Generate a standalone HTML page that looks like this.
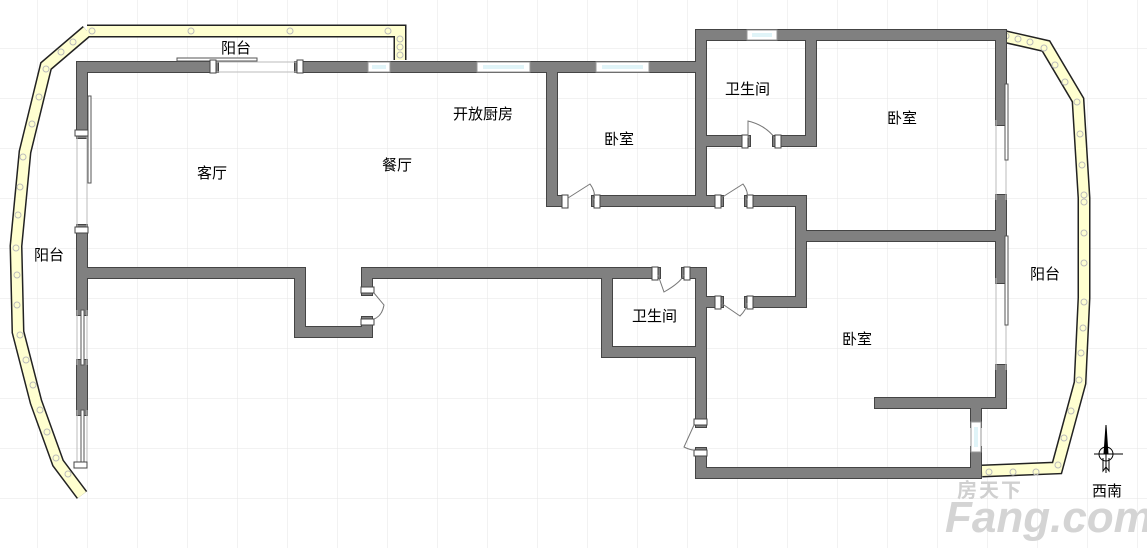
<!DOCTYPE html>
<html><head><meta charset="utf-8"><style>
html,body{margin:0;padding:0;background:#fff;}
svg{display:block}
text{font-family:"Liberation Sans","Noto Sans CJK SC",sans-serif;font-size:15px;fill:#000}
</style></head><body>
<svg width="1147" height="548" viewBox="0 0 1147 548" xmlns="http://www.w3.org/2000/svg">
<defs>
<pattern id="g" x="37" y="48" width="50" height="50" patternUnits="userSpaceOnUse">
<path d="M0 0H50M0 0V50" stroke="#e6e6e6" stroke-width="1" fill="none"/>
</pattern>
<g id="walls">
<polyline points="82,133 82,67 213,67"/>
<polyline points="300,67 700,67"/>
<polyline points="82,230 82,310"/>
<polyline points="82,365 82,410"/>
<polyline points="82,273 300,273 300,332 367,332 367,322"/>
<polyline points="367,290 367,273 655,273"/>
<polyline points="687,273 701,273 701,422"/>
<polyline points="701,453 701,473 976,473 976,452"/>
<polyline points="976,422 976,403 1001,403 1001,370"/>
<polyline points="880,403 976,403"/>
<polyline points="607,273 607,352 701,352"/>
<polyline points="552,67 552,201 562,201"/>
<polyline points="597,201 718,201"/>
<polyline points="750,201 801,201 801,302 750,302"/>
<polyline points="718,302 701,302"/>
<polyline points="801,236 1001,236"/>
<polyline points="701,201 701,35 1001,35 1001,120"/>
<polyline points="1001,200 1001,278"/>
<polyline points="811,40 811,141 778,141"/>
<polyline points="745,141 701,141"/>
</g>
<g id="bal">
<polyline points="87,31 400,31 400,60"/>
<polyline points="87,31 46,66 25,152 16,246 18,332 36,402 58,463 82,495"/>
<polyline points="1002,36 1046,46 1078,100 1084,198 1084,298 1080,383 1057,468 982,471"/>
</g>
</defs>
<rect width="1147" height="548" fill="url(#g)"/>

<!-- balconies -->
<g fill="none">
<use href="#bal" stroke="#222" stroke-width="13"/>
<use href="#bal" stroke="#ffffd0" stroke-width="10"/>
</g>
<g fill="none" stroke="#bbb" stroke-width="1">
<circle cx="92" cy="31" r="3"/><circle cx="191" cy="31" r="3"/><circle cx="290" cy="31" r="3"/><circle cx="388" cy="31" r="3"/>
<circle cx="400" cy="39" r="3"/><circle cx="400" cy="47" r="3"/><circle cx="400" cy="55" r="3"/>
<circle cx="73" cy="42" r="3"/><circle cx="61" cy="52" r="3"/><circle cx="46" cy="69" r="3"/>
<circle cx="39" cy="97" r="3"/><circle cx="32" cy="124" r="3"/><circle cx="23" cy="157" r="3"/>
<circle cx="20" cy="187" r="3"/><circle cx="18" cy="215" r="3"/><circle cx="16" cy="248" r="3"/>
<circle cx="17" cy="275" r="3"/><circle cx="17" cy="305" r="3"/><circle cx="20" cy="335" r="3"/>
<circle cx="26" cy="360" r="3"/><circle cx="33" cy="385" r="3"/><circle cx="40" cy="410" r="3"/>
<circle cx="47" cy="432" r="3"/><circle cx="56" cy="458" r="3"/><circle cx="68" cy="474" r="3"/>
<circle cx="1006" cy="36" r="3"/><circle cx="1018" cy="39" r="3"/><circle cx="1030" cy="42" r="3"/><circle cx="1044" cy="48" r="3"/>
<circle cx="1055" cy="65" r="3"/><circle cx="1065" cy="82" r="3"/><circle cx="1077" cy="102" r="3"/>
<circle cx="1080" cy="134" r="3"/><circle cx="1082" cy="165" r="3"/><circle cx="1084" cy="195" r="3"/>
<circle cx="1084" cy="202" r="3"/><circle cx="1084" cy="233" r="3"/><circle cx="1084" cy="263" r="3"/><circle cx="1084" cy="302" r="3"/>
<circle cx="1083" cy="328" r="3"/><circle cx="1081" cy="353" r="3"/><circle cx="1079" cy="380" r="3"/>
<circle cx="1071" cy="411" r="3"/><circle cx="1064" cy="438" r="3"/><circle cx="1058" cy="465" r="3"/>
<circle cx="1036" cy="472" r="3"/><circle cx="1013" cy="472" r="3"/><circle cx="989" cy="472" r="3"/>
</g>

<!-- walls -->
<g fill="none" stroke-linecap="square" stroke-linejoin="miter">
<use href="#walls" stroke="#444" stroke-width="12"/>
<use href="#walls" stroke="#808080" stroke-width="10"/>
</g>

<!-- windows -->
<g fill="#fff" stroke="#999" stroke-width="1">
<rect x="368" y="62" width="22" height="10"/>
<rect x="477" y="62" width="53" height="10"/>
<rect x="596" y="62" width="53" height="10"/>
<rect x="747" y="30" width="30" height="10"/>
<rect x="971" y="422" width="10" height="30"/>
</g>
<g fill="#e0f4f8" stroke="none">
<rect x="372" y="65" width="14" height="4"/>
<rect x="483" y="65" width="41" height="4"/>
<rect x="602" y="65" width="41" height="4"/>
<rect x="752" y="33" width="20" height="4"/>
<rect x="974" y="427" width="4" height="20"/>
</g>
<g fill="none" stroke="#bbb" stroke-width="1">
<path d="M213,62H300M213,72H300"/>
<path d="M77,133V230M87,133V230"/>
<path d="M77,310V365M87,310V365M77,410V465M87,410V465"/>
<path d="M996,120V200M1006,120V200M996,278V370M1006,278V370"/>
</g>
<g fill="#fff" stroke="#555" stroke-width="1">
<rect x="177" y="58" width="80" height="3"/>
<rect x="88" y="96" width="3" height="87"/>
<rect x="81" y="310" width="3" height="55"/>
<rect x="81" y="410" width="3" height="55"/>
<rect x="1005" y="84" width="3" height="76"/>
<rect x="1005" y="236" width="3" height="89"/>
</g>

<!-- door frames and swings -->
<g fill="#fff" stroke="#444" stroke-width="1">
<rect x="210" y="60" width="6" height="13"/><rect x="297" y="60" width="6" height="13"/>
<rect x="75" y="130" width="13" height="6"/><rect x="75" y="227" width="13" height="6"/>
<rect x="361" y="287" width="13" height="6"/><rect x="361" y="319" width="13" height="6"/>
<rect x="562" y="195" width="6" height="13"/><rect x="594" y="195" width="6" height="13"/>
<rect x="715" y="195" width="6" height="13"/><rect x="747" y="195" width="6" height="13"/>
<rect x="742" y="135" width="6" height="13"/><rect x="775" y="135" width="6" height="13"/>
<rect x="652" y="267" width="6" height="13"/><rect x="684" y="267" width="6" height="13"/>
<rect x="715" y="296" width="6" height="13"/><rect x="747" y="296" width="6" height="13"/>
<rect x="694" y="419" width="13" height="6"/><rect x="694" y="450" width="13" height="6"/>
<rect x="74" y="462" width="13" height="6"/>
</g>
<g fill="none" stroke="#777" stroke-width="1">
<path d="M568,198L590,184Q596,192 594,200"/>
<path d="M721,198L743,184Q749,192 747,200"/>
<path d="M748,138L748,121Q765,125 775,138"/>
<path d="M658,275L664,292Q680,283 684,275"/>
<path d="M721,303L740,316Q747,309 747,303"/>
<path d="M374,293L384,305Q382,316 374,319"/>
<path d="M694,425L684,447Q690,450 694,450"/>
</g>

<!-- labels -->
<text x="221" y="53">阳台</text>
<text x="34" y="260">阳台</text>
<text x="197" y="178">客厅</text>
<text x="382" y="170">餐厅</text>
<text x="453" y="119">开放厨房</text>
<text x="604" y="144">卧室</text>
<text x="725" y="94">卫生间</text>
<text x="887" y="123">卧室</text>
<text x="1030" y="279">阳台</text>
<text x="632" y="321">卫生间</text>
<text x="842" y="344">卧室</text>
<text x="1092" y="496">西南</text>

<!-- compass -->
<g stroke="#000" stroke-width="1" fill="none">
<circle cx="1106" cy="454" r="7"/>
<path d="M1094,454H1123M1106,425V473"/>
<path d="M1104,454L1106,425L1108,454Z" fill="#000"/>
<path d="M1103,458V471L1106,467L1109,471V458"/>
</g>

<!-- watermark -->
<text x="957" y="497" style="font-size:20px;font-weight:bold;fill:#d0d0d0;letter-spacing:2px">房天下</text>
<text x="945" y="532" style="font-size:44px;font-weight:bold;font-style:italic;fill:#d4d4d4">Fang.com</text>
</svg>
</body></html>
